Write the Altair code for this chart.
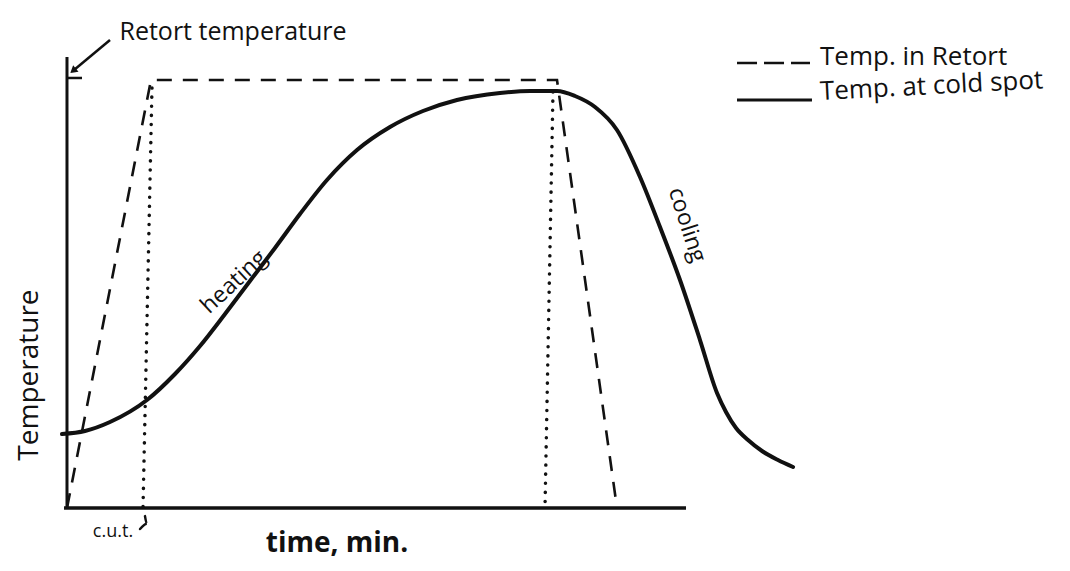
import altair as alt
import pandas as pd

# ---- data (time units, temperature as % of retort temp) ----
cold_t = [-0.81, 2.91, 6.95, 12.92, 17.45, 21.49, 25.53, 29.56, 33.60, 37.64, 42.00,
          46.85, 52.18, 57.51, 63.00, 69.95, 74.80, 79.16,
          82.07, 85.30, 88.85, 92.57, 95.80, 99.03, 102.26, 105.01, 106.46,
          108.08, 110.02, 112.28, 114.86, 117.29]
cold_T = [17.29, 17.99, 20.09, 25.23, 31.31, 37.85, 45.33, 53.04, 60.75, 68.69, 76.64,
          83.64, 89.02, 92.76, 95.33, 96.96, 97.43, 97.43,
          96.26, 93.69, 88.32, 77.34, 65.65, 53.27, 39.25, 26.87, 22.43,
          18.69, 15.89, 13.32, 11.21, 9.58]

retort_t = [0, 13.57, 79.16, 88.85]
retort_T = [0, 100, 100, 0]

cut_t = [13.73, 12.28]      # come-up time marker
cut_T = [98.13, 0]
end_t = [78.51, 77.22]      # end of heating marker
end_T = [97.20, 0]

yaxis_t = [0, 0]
yaxis_T = [105.37, 0]
xaxis_t = [-0.48, 100]
xaxis_T = [0, 0]
ytick_t = [0, 2.42]
ytick_T = [100.47, 100.47]

arrow_t = [6.95, 1.13]
arrow_T = [109.35, 102.34]

hook_t = [11.80, 12.90, 12.60]
hook_T = [-4.90, -3.70, -1.90]

leg_dash_t = [108.24, 120.03]
leg_dash_T = [103.97, 103.97]
leg_solid_t = [108.24, 120.35]
leg_solid_T = [95.33, 95.33]

labels = ["Retort temperature", "Temp. in Retort", "Temp. at cold spot",
          "Temperature", "time, min.", "c.u.t.", "heating", "cooling"]

X = alt.Scale(domain=[-9.53, 160.74], nice=False, zero=False)
Y = alt.Scale(domain=[-12.85, 116.82], nice=False, zero=False)
INK = "#111111"


def line(ts, Ts, width=3, dash=None, cap="butt", interp="linear"):
    df = pd.DataFrame({"t": ts, "T": Ts, "i": list(range(len(ts)))})
    kw = dict(color=INK, strokeWidth=width, strokeCap=cap, interpolate=interp)
    if dash:
        kw["strokeDash"] = dash
    return alt.Chart(df).mark_line(**kw).encode(
        x=alt.X("t:Q", scale=X, axis=None),
        y=alt.Y("T:Q", scale=Y, axis=None),
        order="i:Q",
    )


def label(txt, t, T, size, angle=0, align="center", weight="normal"):
    df = pd.DataFrame({"t": [t], "T": [T], "txt": [txt]})
    return alt.Chart(df).mark_text(
        fontSize=size, angle=angle, align=align, baseline="middle",
        font="Open Sans", color=INK, fontWeight=weight,
    ).encode(
        x=alt.X("t:Q", scale=X, axis=None),
        y=alt.Y("T:Q", scale=Y, axis=None),
        text="txt:N",
    )


arrow_head = alt.Chart(pd.DataFrame({"t": [arrow_t[1]], "T": [arrow_T[1]]})).mark_point(
    shape="triangle", filled=True, size=70, angle=230, color=INK, opacity=1
).encode(x=alt.X("t:Q", scale=X, axis=None), y=alt.Y("T:Q", scale=Y, axis=None))

layers = [
    line(yaxis_t, yaxis_T, width=3),
    line(xaxis_t, xaxis_T, width=3.5),
    line(ytick_t, ytick_T, width=2.5),
    line(cut_t, cut_T, width=3.5, dash=[0.1, 9], cap="round"),
    line(end_t, end_T, width=3.5, dash=[0.1, 9], cap="round"),
    line(retort_t, retort_T, width=2.6, dash=[15, 11]),
    line(cold_t, cold_T, width=4, cap="round", interp="monotone"),
    line(arrow_t, arrow_T, width=2.5),
    arrow_head,
    line(hook_t, hook_T, width=2.5, cap="round", interp="monotone"),
    line(leg_dash_t, leg_dash_T, width=2.6, dash=[20, 7]),
    line(leg_solid_t, leg_solid_T, width=3),
    label(labels[0], 26.82, 111.21, 25),
    label(labels[1], 121.65, 105.37, 26, align="left"),
    label(labels[2], 121.65, 97.20, 26, align="left", angle=357),
    label(labels[3], -5.90, 31.07, 28, angle=270),
    label(labels[4], 43.62, -8.40, 28, weight="bold"),
    label(labels[5], 7.43, -5.61, 18),
    label(labels[6], 26.98, 52.80, 23, angle=317),
    label(labels[7], 100.16, 66.12, 23, angle=72),
]

chart = alt.layer(*layers).properties(
    width=1054, height=555, padding=0,
    autosize=alt.AutoSizeParams(type="none"),
    background="white",
).configure_view(stroke=None)

chart.save("out.html", embed_options={"renderer": "svg", "actions": False})
